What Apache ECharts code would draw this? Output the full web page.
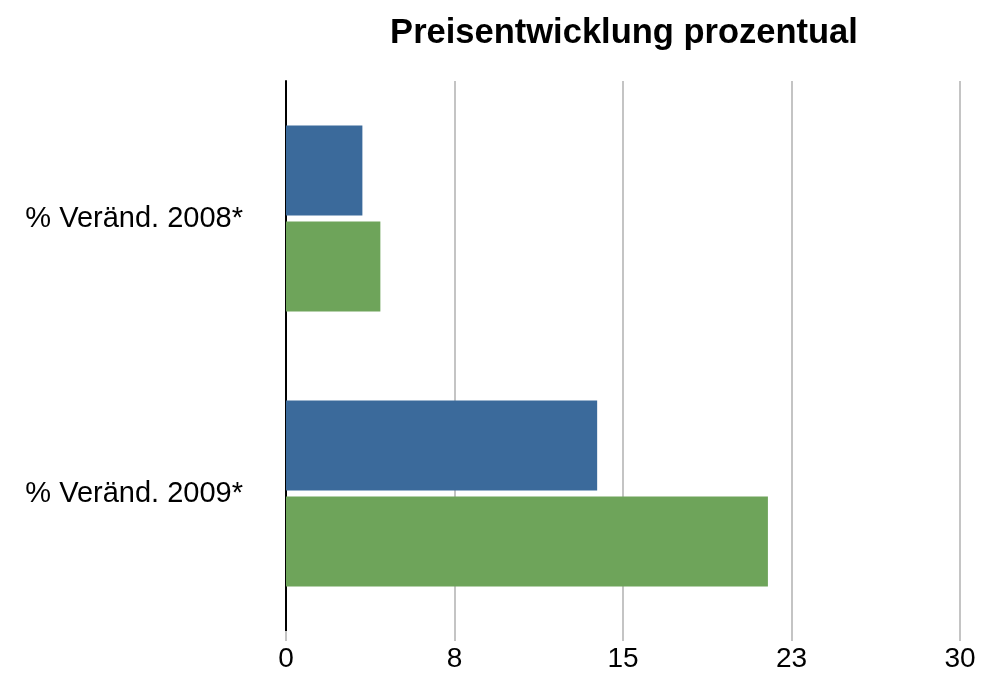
<!DOCTYPE html>
<html>
<head>
<meta charset="utf-8">
<script src="https://cdn.jsdelivr.net/npm/echarts@6/dist/echarts.min.js"></script>
<style>html,body{margin:0;padding:0;background:#fff;}#c{width:984px;height:675px;}</style>
</head>
<body>
<div id="c"></div>
<script>
var categories = ['% Veränd. 2008*', '% Veränd. 2009*'];
var seriesA = [3.4, 13.85];
var seriesB = [4.2, 21.45];
var xTicks = [0, 7.5, 15, 22.5, 30];

var chart = echarts.init(document.getElementById('c'));
var font = '"Liberation Sans", Arial, Helvetica, sans-serif';
chart.setOption({
  animation: false,
  backgroundColor: '#ffffff',
  title: {
    text: 'Preisentwicklung prozentual',
    left: 619,
    textAlign: 'center',
    top: 11,
    textStyle: { fontFamily: font, fontSize: 34.5, fontWeight: 'bold', color: '#000' }
  },
  grid: { left: 286, right: 24, top: 81, bottom: 44, containLabel: false },
  xAxis: {
    type: 'value',
    min: xTicks[0],
    max: xTicks[xTicks.length - 1],
    interval: xTicks[1] - xTicks[0],
    axisLine: { show: false },
    axisTick: { show: true, length: 10, lineStyle: { color: '#c4c4c4', width: 2 } },
    splitLine: { show: true, lineStyle: { color: '#c4c4c4', width: 2 } },
    axisLabel: {
      margin: 14,
      fontFamily: font, fontSize: 28, color: '#000',
      formatter: function (v) { return String(Math.round(v)); }
    }
  },
  yAxis: {
    type: 'category',
    data: categories,
    inverse: true,
    axisLine: { show: true, lineStyle: { color: '#000', width: 2 } },
    axisTick: { show: false },
    axisLabel: { margin: 43, fontFamily: font, fontSize: 29, color: '#000' }
  },
  series: [
    { type: 'bar', data: seriesA, itemStyle: { color: '#3b6a9b' }, barGap: '6.7%', barCategoryGap: '32.4%' },
    { type: 'bar', data: seriesB, itemStyle: { color: '#6ea45a' }, barGap: '6.7%', barCategoryGap: '32.4%' }
  ]
});
</script>
</body>
</html>
